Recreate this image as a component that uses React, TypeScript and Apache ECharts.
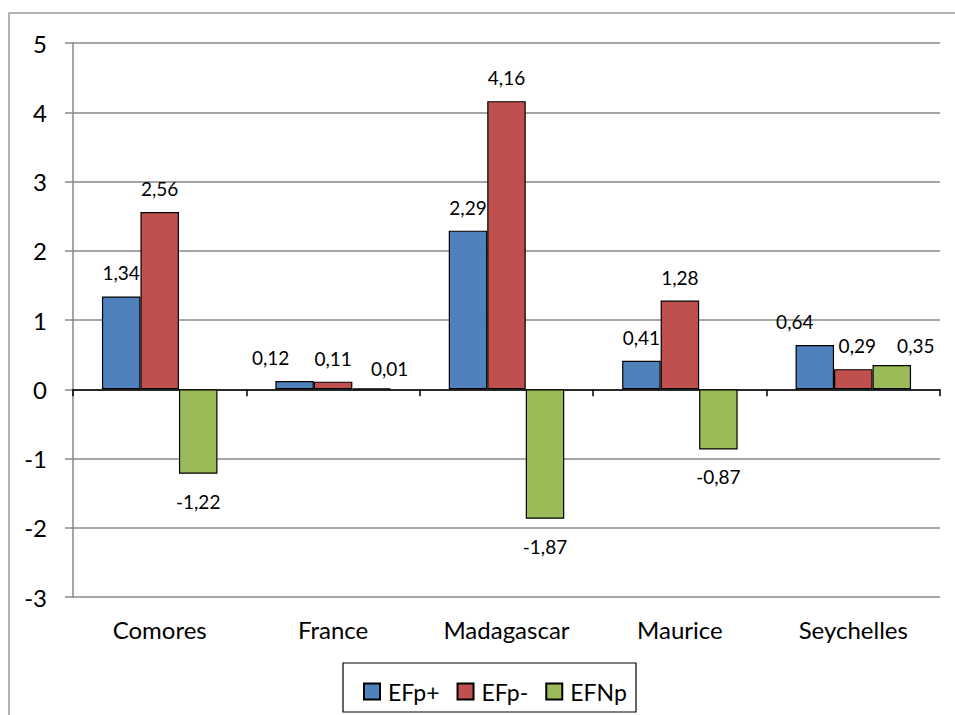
import React, { useEffect, useRef } from "react";
import * as echarts from "echarts";

const categories = ["Comores", "France", "Madagascar", "Maurice", "Seychelles"];
const seriesNames = ["EFp+", "EFp-", "EFNp"];
const efpPlus = [1.34, 0.12, 2.29, 0.41, 0.64];
const efpMinus = [2.56, 0.11, 4.16, 1.28, 0.29];
const efnp = [-1.22, 0.01, -1.87, -0.87, 0.35];
const colors = ["#4F81BD", "#C0504D", "#9BBB59"];

// manual label shifts (pixels) per series / category, as placed in the original
const labelShifts: Record<string, [number, number]> = {
  "0-1": [-24, 0],
  "2-1": [18, 4],
  "0-4": [-20, 0],
  "1-4": [4, 0],
  "2-4": [24, 4],
};

const FONT = "Lato, 'Noto Sans', sans-serif";

function makeSeries(si: number, values: number[]) {
  return {
    name: seriesNames[si],
    type: "bar",
    xAxisIndex: 0,
    barWidth: 38.5,
    barGap: "0%",
    itemStyle: { color: colors[si], borderColor: "#000", borderWidth: 1.2 },
    data: values.map((v, ci) => ({
      value: v,
      label: {
        show: true,
        position: v < 0 ? "bottom" : "top",
        distance: v < 0 ? 18 : 14,
        offset: labelShifts[`${si}-${ci}`] || [0, 0],
        formatter: () => v.toFixed(2).replace(".", ","),
        fontFamily: FONT,
        fontSize: 19,
        color: "#000",
      },
    })),
  };
}

export default function App() {
  const ref = useRef<HTMLDivElement>(null);
  useEffect(() => {
    const chart = echarts.init(ref.current!, null, { renderer: "svg" });
    chart.setOption({
      animation: false,
      backgroundColor: "#fff",
      textStyle: { fontFamily: FONT },
      grid: { left: 73, top: 43, right: 15, bottom: 118, containLabel: false },
      graphic: [
        {
          type: "rect",
          shape: { x: 9, y: 13, width: 1000, height: 1000 },
          style: { fill: "none", stroke: "#9a9a9a", lineWidth: 1.5 },
          silent: true,
        },
        {
          type: "rect",
          shape: { x: 343, y: 663, width: 293, height: 49 },
          style: { fill: "none", stroke: "#000", lineWidth: 1.2 },
          silent: true,
        },
      ],
      legend: {
        data: seriesNames,
        left: 358,
        top: 675,
        padding: 5,
        icon: "rect",
        itemWidth: 16,
        itemHeight: 16,
        itemGap: 17,
        textStyle: { fontFamily: FONT, fontSize: 23, color: "#000", padding: [0, 0, 0, 3] },
      },
      xAxis: [
        {
          type: "category",
          data: categories,
          axisLine: { onZero: true, lineStyle: { color: "#000", width: 1.5 } },
          axisTick: { show: true, alignWithLabel: false, length: 7, lineStyle: { color: "#000", width: 1.5 } },
          axisLabel: { show: false },
          splitLine: { show: false },
        },
        {
          type: "category",
          data: categories,
          position: "bottom",
          axisLine: { show: false },
          axisTick: { show: false },
          axisLabel: { show: true, margin: 20, fontFamily: FONT, fontSize: 24, color: "#000" },
          splitLine: { show: false },
        },
      ],
      yAxis: {
        type: "value",
        min: -3,
        max: 5,
        interval: 1,
        axisLine: { show: true, lineStyle: { color: "#888", width: 1.5 } },
        axisTick: { show: true, length: 8, lineStyle: { color: "#888", width: 1.5 } },
        axisLabel: { margin: 26, fontFamily: FONT, fontSize: 24, color: "#000" },
        splitLine: { show: true, lineStyle: { color: "#888", width: 1.5 } },
      },
      series: [makeSeries(0, efpPlus), makeSeries(1, efpMinus), makeSeries(2, efnp)],
    });
    return () => chart.dispose();
  }, []);
  return (
    <div
      ref={ref}
      style={{ position: "fixed", left: 0, top: 0, width: 955, height: 715 }}
    />
  );
}
